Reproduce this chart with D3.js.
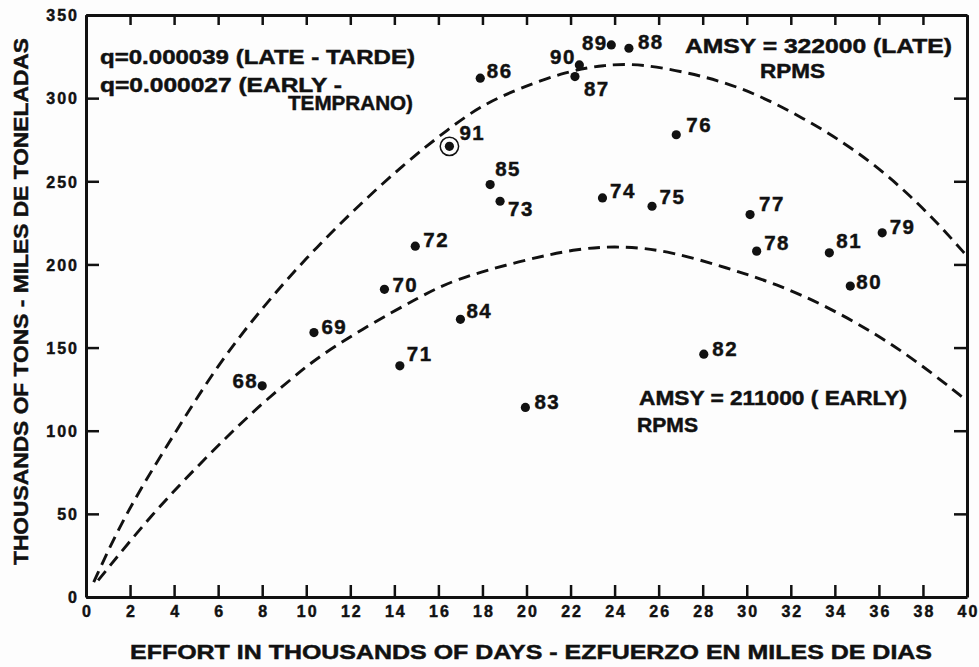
<!DOCTYPE html>
<html>
<head>
<meta charset="utf-8">
<script src="https://cdn.jsdelivr.net/npm/d3@7"></script>
<style>
  html, body { margin: 0; padding: 0; background: #fdfdfd; }
  svg { display: block; }
  text { font-family: "Liberation Sans", Arial, Helvetica, sans-serif; font-weight: bold; fill: #111; stroke: #111; stroke-width: 0.45px; }
</style>
</head>
<body>
<svg id="chart" width="979" height="667"></svg>
<script>
// ---------------- DATA ----------------
const years   = ["68","69","70","71","72","73","74","75","76","77","78","79","80","81","82","83","84","85","86","87","88","89","90","91"];
const effort  = [8.0, 10.35, 13.55, 14.25, 14.95, 18.8, 23.45, 25.7, 26.8, 30.15, 30.45, 36.15, 34.7, 33.75, 28.05, 19.95, 17.0, 18.35, 17.9, 22.2, 24.65, 23.85, 22.4, 16.5];
const catchK  = [127, 159, 185, 139, 211, 238, 240, 235, 278, 230, 208, 219, 187, 207, 146, 114, 167, 248, 312, 313, 330, 332, 320, 271];

// Production-model curves (effort, thousands of tons)
const lateEffort  = [0.35, 1.5, 2.7, 4.1, 6.0, 8.0, 10.0, 12.1, 14.4, 16.5, 18.0, 19.7, 21.8, 23.5, 25.2, 28.2, 30.4, 32.7, 34.2, 35.7, 37.3, 38.8, 40.0];
const lateCatch   = [9, 42, 70, 100, 140, 174, 204, 232, 260, 282, 296, 306, 316, 320, 321, 313, 303, 287, 275, 261, 243, 223, 205];
const earlyEffort = [0.55, 3.0, 5.3, 7.6, 9.4, 10.6, 12.9, 15.1, 16.7, 19.7, 22.4, 24.5, 26.5, 29.1, 31.4, 33.6, 35.9, 37.9, 40.0];
const earlyCatch  = [10, 50, 82, 112, 132, 145, 164, 180, 191, 202, 210, 211, 208, 198, 188, 175, 158, 140, 118];

const xTicks = [0,2,4,6,8,10,12,14,16,18,20,22,24,26,28,30,32,34,36,38,40];
const yTicks = [0,50,100,150,200,250,300,350];

const circledYear = "91";

const annotations = [
  "q=0.000039 (LATE - TARDE)",
  "q=0.000027 (EARLY -",
  "TEMPRANO)",
  "AMSY = 322000 (LATE)",
  "RPMS",
  "AMSY = 211000 ( EARLY)",
  "RPMS"
];
const xTitle = "EFFORT IN THOUSANDS OF DAYS - EZFUERZO EN MILES DE DIAS";
const yTitle = "THOUSANDS OF TONS - MILES DE TONELADAS";

// ---------------- LAYOUT / STYLE ----------------
const svg = d3.select("#chart");
const X0 = 86, X1 = 967, Y0 = 597, Y1 = 15;
const x = d3.scaleLinear().domain([0, 40]).range([X0, X1]);
const y = d3.scaleLinear().domain([0, 350]).range([Y0, Y1]);

// label offsets per year (dx, dy, anchor) - pure placement styling
const labelPos = {
  "68": [-6, 2, "end"], "69": [7.5, 1.5], "70": [8, 2.5], "71": [7, -5], "72": [8, 1],
  "73": [8, 15], "74": [7.5, 0], "75": [7.5, -2.5], "76": [10, -2.5], "77": [9, -4],
  "78": [7.5, -1.5], "79": [7.5, 1], "80": [6, 2.5], "81": [7, -4.5], "82": [8.5, 1.5],
  "83": [9, 2], "84": [6, -1.5], "85": [5, -8.5], "86": [6.5, 0], "87": [9, 19],
  "88": [9, 0.5], "89": [-5.5, 5, "end"], "90": [-5.5, -0.5, "end"], "91": [10, -6.5]
};

// ---------------- AXES ----------------
const axisStyle = g => {
  g.selectAll(".domain").attr("stroke", "#111").attr("stroke-width", 3);
  g.selectAll(".tick line").attr("stroke", "#111").attr("stroke-width", 2.5);
  g.selectAll(".tick text").style("font-size", "16px").style("letter-spacing", "2px")
    .attr("fill", "#111").style("font-family", '"Liberation Sans", Arial, sans-serif').style("font-weight", "bold");
};

svg.append("g").attr("transform", `translate(0,${Y0})`)
  .call(d3.axisBottom(x).tickValues(xTicks).tickSize(-12).tickSizeOuter(0).tickPadding(8.5).tickFormat(d3.format("d")))
  .call(axisStyle)
  .call(g => g.selectAll(".tick text").attr("dx", "1px"));

svg.append("g").attr("transform", `translate(0,${Y1})`)
  .call(d3.axisTop(x).tickValues(xTicks).tickSize(-10).tickSizeOuter(0).tickFormat(""))
  .call(axisStyle);

svg.append("g").attr("transform", `translate(${X0},0)`)
  .call(d3.axisLeft(y).tickValues(yTicks).tickSize(-13).tickSizeOuter(0).tickPadding(7).tickFormat(d3.format("d")))
  .call(axisStyle)
  .call(g => g.selectAll(".tick text").attr("dy", "0.36em"));

svg.append("g").attr("transform", `translate(${X1},0)`)
  .call(d3.axisRight(y).tickValues(yTicks).tickSize(-13).tickSizeOuter(0).tickFormat(""))
  .call(axisStyle);

// ---------------- CURVES ----------------
const line = d3.line().x(d => x(d[0])).y(d => y(d[1])).curve(d3.curveBasis);
const lateData = lateEffort.map((e, i) => [e, lateCatch[i]]);
const earlyData = earlyEffort.map((e, i) => [e, earlyCatch[i]]);

[lateData, earlyData].forEach(dat => {
  svg.append("path").datum(dat).attr("d", line)
    .attr("fill", "none").attr("stroke", "#111").attr("stroke-width", 2.9)
    .attr("stroke-dasharray", "12,7");
});

// ---------------- POINTS ----------------
const pts = years.map((yr, i) => ({ yr, e: effort[i], c: catchK[i] }));
const gp = svg.append("g");
gp.selectAll("circle.dot").data(pts).join("circle").attr("class", "dot")
  .attr("cx", d => x(d.e)).attr("cy", d => y(d.c)).attr("r", 4.6).attr("fill", "#111");
gp.selectAll("circle.ring").data(pts.filter(d => d.yr === circledYear)).join("circle").attr("class", "ring")
  .attr("cx", d => x(d.e)).attr("cy", d => y(d.c)).attr("r", 9.2)
  .attr("fill", "none").attr("stroke", "#111").attr("stroke-width", 1.5);
gp.selectAll("text").data(pts).join("text")
  .attr("x", d => x(d.e) + labelPos[d.yr][0] + (labelPos[d.yr][2] === "end" ? 2 : 0))
  .attr("y", d => y(d.c) + labelPos[d.yr][1])
  .attr("text-anchor", d => labelPos[d.yr][2] || "start")
  .style("font-size", "20.5px").style("letter-spacing", "1.5px")
  .text(d => d.yr);

// ---------------- ANNOTATIONS ----------------
const annPos = [
  [100, 64, 315], [100, 91.5, 242], [288, 110, 125],
  [685, 53, 267], [760, 78, 65], [639, 405, 268], [637, 431.5, 61]
];
svg.append("g").selectAll("text").data(annotations).join("text")
  .attr("x", (d, i) => annPos[i][0]).attr("y", (d, i) => annPos[i][1])
  .attr("textLength", (d, i) => annPos[i][2]).attr("lengthAdjust", "spacingAndGlyphs")
  .style("font-size", "19.5px")
  .text(d => d);

// ---------------- AXIS TITLES ----------------
svg.append("text").attr("x", 130).attr("y", 659)
  .attr("textLength", 802).attr("lengthAdjust", "spacingAndGlyphs")
  .style("font-size", "19.5px").text(xTitle);

svg.append("text").attr("transform", "translate(28,565) rotate(-90)")
  .attr("x", 0).attr("y", 0)
  .attr("textLength", 527).attr("lengthAdjust", "spacingAndGlyphs")
  .style("font-size", "20.5px").text(yTitle);
</script>
</body>
</html>
